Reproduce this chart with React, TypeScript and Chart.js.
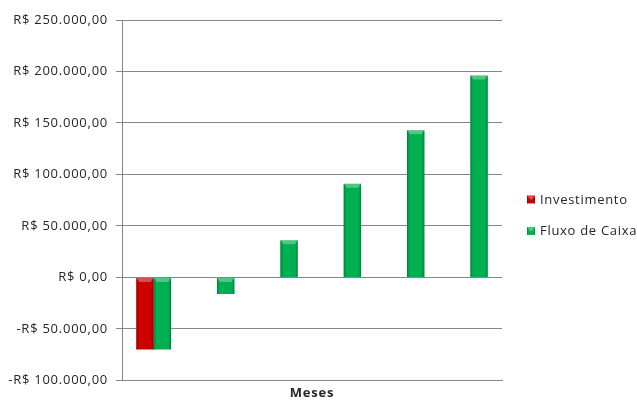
import React, { useEffect, useRef } from "react";
import { Chart, registerables } from "chart.js";

Chart.register(...registerables);

const categories = ["0", "1", "2", "3", "4", "5"];
const investimento = [-70000, null, null, null, null, null];
const fluxoDeCaixa = [-70000, -16000, 36000, 91000, 143000, 196000];
const yMin = -100000;
const yMax = 250000;
const yStep = 50000;

const FONT = "'Open Sans', sans-serif";
const FONT_SIZE = 13;
const TEXT = "#262626";
const GRID = "#868686";

function fmt(v: number): string {
  const abs = Math.abs(v);
  const intPart = Math.floor(abs)
    .toString()
    .replace(/\B(?=(\d{3})+(?!\d))/g, ".");
  return (v < 0 ? "-R$ " : "R$ ") + intPart + ",00";
}

const spacingPlugin = {
  id: "spacing",
  beforeInit(chart: any) {
    chart.ctx.letterSpacing = "0.75px";
  },
  beforeUpdate(chart: any) {
    chart.ctx.letterSpacing = "0.75px";
  },
  beforeDraw(chart: any) {
    chart.ctx.letterSpacing = "0.75px";
  },
};

function bevelRect(c: CanvasRenderingContext2D, left: number, top: number, width: number, h: number) {
  const g = c.createLinearGradient(left, 0, left + width, 0);
  g.addColorStop(0, "rgba(0,0,0,0.28)");
  g.addColorStop(0.15, "rgba(0,0,0,0.0)");
  g.addColorStop(0.85, "rgba(0,0,0,0.0)");
  g.addColorStop(1, "rgba(0,0,0,0.28)");
  c.fillStyle = g;
  c.fillRect(left, top, width, h);
  const bev = Math.min(4, h / 2);
  c.fillStyle = "rgba(255,255,255,0.3)";
  c.beginPath();
  c.moveTo(left, top);
  c.lineTo(left + width, top);
  c.lineTo(left + width - 3, top + bev);
  c.lineTo(left + 3, top + bev);
  c.closePath();
  c.fill();
}

const bevelPlugin = {
  id: "bevel",
  afterDatasetsDraw(chart: any) {
    const c = chart.ctx;
    chart.data.datasets.forEach((ds: any, di: number) => {
      const meta = chart.getDatasetMeta(di);
      meta.data.forEach((bar: any, i: number) => {
        if (ds.data[i] == null) return;
        const { x, y, base, width } = bar.getProps(["x", "y", "base", "width"], true);
        c.save();
        bevelRect(c, x - width / 2, Math.min(y, base), width, Math.abs(base - y));
        c.restore();
      });
    });
  },
};

const legendPlugin = {
  id: "sideLegend",
  afterDraw(chart: any) {
    const c = chart.ctx;
    const area = chart.chartArea;
    const x0 = area.right + 25;
    const spacing = 31.5;
    const n = chart.data.datasets.length;
    const mid = (area.top + area.bottom) / 2 + 15;
    c.save();
    c.letterSpacing = "0.7px";
    c.font = `${FONT_SIZE}px ${FONT}`;
    c.textBaseline = "middle";
    c.textAlign = "left";
    chart.data.datasets.forEach((ds: any, i: number) => {
      const yc = mid + (i - (n - 1) / 2) * spacing;
      c.fillStyle = ds.backgroundColor;
      c.fillRect(x0, yc - 4, 8, 8);
      bevelRect(c, x0, yc - 4, 8, 8);
      c.fillStyle = TEXT;
      c.fillText(ds.label, x0 + 13, yc + 0.5);
    });
    c.restore();
  },
};

export default function App() {
  const ref = useRef<HTMLCanvasElement | null>(null);

  useEffect(() => {
    document.body.style.margin = "0";
    const canvas = ref.current;
    if (!canvas) return;
    const chart = new Chart(canvas, {
      type: "bar",
      data: {
        labels: categories,
        datasets: [
          {
            label: "Investimento",
            data: investimento,
            backgroundColor: "#cc0000",
            borderWidth: 0,
          },
          {
            label: "Fluxo de Caixa",
            data: fluxoDeCaixa,
            backgroundColor: "#00b050",
            borderWidth: 0,
          },
        ],
      },
      options: {
        animation: false,
        responsive: false,
        maintainAspectRatio: false,
        layout: { padding: { top: 20, left: 0, right: 135, bottom: 0 } },
        datasets: {
          bar: { categoryPercentage: 0.55, barPercentage: 1.0 },
        },
        plugins: {
          legend: { display: false },
          tooltip: { enabled: false },
        },
        scales: {
          x: {
            grid: { display: false, drawTicks: false },
            border: { display: true, color: GRID },
            ticks: { display: false },
            title: {
              display: true,
              text: "Meses",
              color: TEXT,
              font: { family: FONT, size: FONT_SIZE, weight: "bold" },
              padding: { top: 5, bottom: 0 },
            },
          },
          y: {
            min: yMin,
            max: yMax,
            ticks: {
              stepSize: yStep,
              color: TEXT,
              padding: 8,
              font: { family: FONT, size: FONT_SIZE },
              callback: (v: any) => fmt(Number(v)),
            },
            grid: { color: GRID, tickLength: 6, tickColor: GRID },
            border: { display: true, color: GRID },
            afterFit: (scale: any) => {
              scale.width = 122;
            },
          },
        },
      },
      plugins: [spacingPlugin, bevelPlugin, legendPlugin],
    });
    return () => chart.destroy();
  }, []);

  return (
    <div style={{ width: 637, height: 401, background: "#fff" }}>
      <canvas ref={ref} width={637} height={401} style={{ display: "block" }} />
    </div>
  );
}
